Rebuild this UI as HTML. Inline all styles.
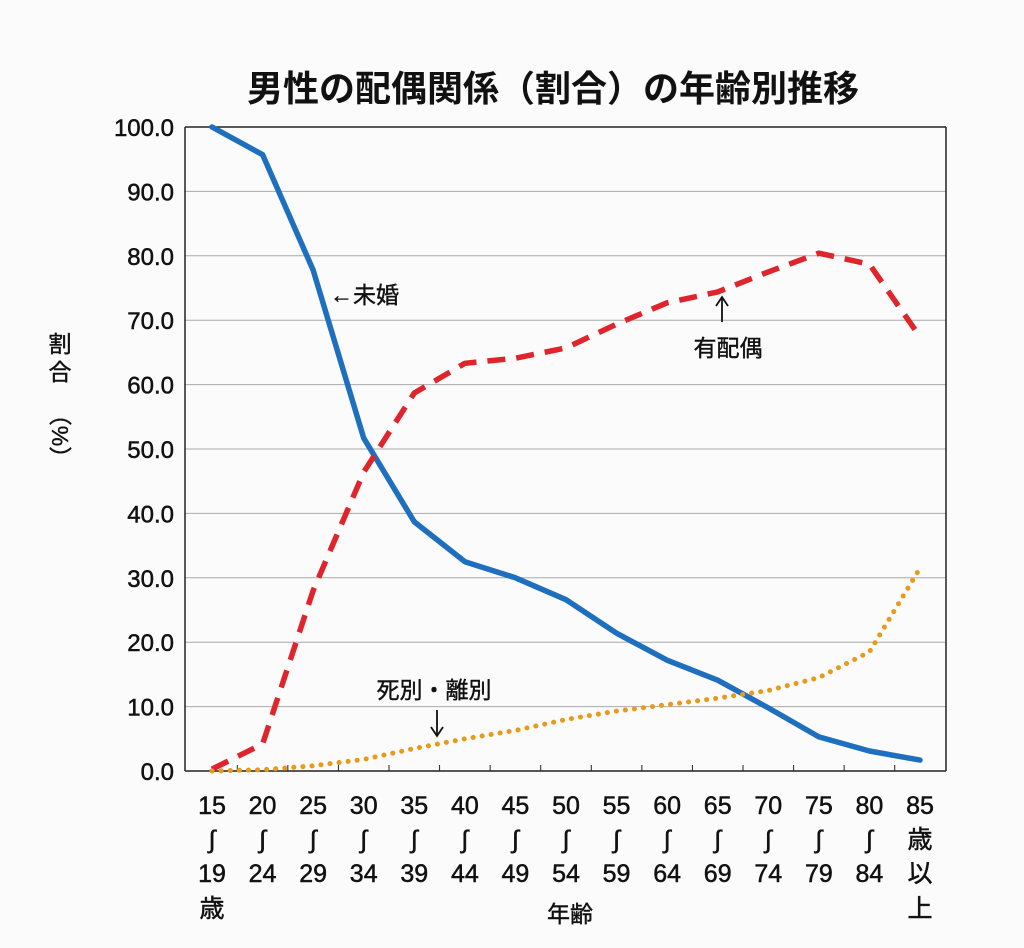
<!DOCTYPE html>
<html><head><meta charset="utf-8"><style>
body{margin:0;background:#fbfbfb;}
svg{display:block;font-family:"Liberation Sans","Noto Sans CJK JP",sans-serif;}
</style></head><body>
<svg id="chart" width="1024" height="948" viewBox="0 0 1024 948">
<rect width="1024" height="948" fill="#fbfbfb"/>
<text x="553" y="101" text-anchor="middle" font-size="36" font-weight="bold" fill="#111">男性の配偶関係（割合）の年齢別推移</text>
<g id="grid"></g><g id="axes"></g><g id="series"></g>
<g font-size="23" fill="#111" stroke="#111" stroke-width="0.4">
<text x="60" y="352" text-anchor="middle">割</text>
<text x="60" y="380" text-anchor="middle">合</text>
<text x="60" y="436" text-anchor="middle" transform="rotate(90 60 436)" dy="8">（%）</text>
</g>
<text x="570" y="922" text-anchor="middle" font-size="23" fill="#111" stroke="#111" stroke-width="0.4">年齢</text>
<g font-size="23" fill="#111" stroke="#111" stroke-width="0.4">
<text x="330" y="303">←未婚</text>
<line x1="722" y1="298" x2="722" y2="322" stroke="#111" stroke-width="1.8"/>
<path d="M716 306 L722 297 L728 306" fill="none" stroke="#111" stroke-width="1.8"/>
<text x="728" y="356" text-anchor="middle">有配偶</text>
<text x="434" y="698" text-anchor="middle">死別・離別</text>
<line x1="437" y1="710" x2="437" y2="735" stroke="#111" stroke-width="1.8"/>
<path d="M431 727 L437 736 L443 727" fill="none" stroke="#111" stroke-width="1.8"/>
</g>
</svg>
<script>
const categories=["15","20","25","30","35","40","45","50","55","60","65","70","75","80","85"];
const categoryEnds=["19","24","29","34","39","44","49","54","59","64","69","74","79","84",""];
const yTicks=[0,10,20,30,40,50,60,70,80,90,100];
const unmarried=[100,95.7,77.8,51.7,38.7,32.5,30,26.6,21.4,17.2,14.1,9.8,5.3,3.1,1.7];
const married=[0.3,4.2,28,46.4,58.7,63.3,64.1,65.7,69.4,72.7,74.4,77.5,80.4,78.7,67.4];
const widowedDivorced=[0,0.2,0.8,1.8,3.5,5,6.3,8,9.3,10.3,11.3,12.5,14.5,18.5,31.5];
const NS="http://www.w3.org/2000/svg";
const L=185,R=946,T=127,B=771;
const x0=212,dx=(920-212)/14;
const X=i=>x0+i*dx, Y=v=>B-(v/100)*(B-T);
function mk(tag,attrs,parent,text){const e=document.createElementNS(NS,tag);for(const k in attrs)e.setAttribute(k,attrs[k]);if(text!==undefined)e.textContent=text;parent.appendChild(e);return e;}
const grid=document.getElementById('grid'),axes=document.getElementById('axes'),series=document.getElementById('series');
yTicks.forEach(t=>{
 const g=mk('line',{x1:L,x2:R,y1:Y(t),y2:Y(t),stroke:(t===0||t===100)?'#222':'#aaa','stroke-width':(t===0||t===100)?1.5:1},grid);
 
 
 const tx=mk('text',{x:174,y:Y(t)+9,'text-anchor':'end','font-size':24,fill:'#111',stroke:'#111','stroke-width':0.5},axes,t.toFixed(1));
 
 
});
const lb=mk('line',{x1:L,x2:L,y1:T,y2:B,stroke:'#222','stroke-width':1.5},grid);


const rb=mk('line',{x1:R,x2:R,y1:T,y2:B,stroke:'#222','stroke-width':1.5},grid);


categories.forEach((c,i)=>{
 if(i>0){const tk=mk('line',{x1:X(i)-dx/2,x2:X(i)-dx/2,y1:B-6,y2:B,stroke:'#222'},axes);
 
 }
 const g=mk('g',{'font-size':25,fill:'#111','text-anchor':'middle',stroke:'#111','stroke-width':0.5},axes);
 
 
 mk('text',{x:X(i),y:814},g,c);
 if(i<14){
  mk('text',{x:X(i),y:848},g,'∫');
  mk('text',{x:X(i),y:882},g,categoryEnds[i]);
  if(i===0)mk('text',{x:X(i),y:917},g,'歳');
 }else{
  mk('text',{x:X(i),y:848},g,'歳');
  mk('text',{x:X(i),y:882},g,'以');
  mk('text',{x:X(i),y:917},g,'上');
 }
});
function path(arr){return arr.map((v,i)=>(i?'L':'M')+X(i).toFixed(1)+' '+Y(v).toFixed(1)).join(' ');}
const p1=mk('path',{d:path(unmarried),fill:'none',stroke:'#1f6fbf','stroke-width':5.5,'stroke-linejoin':'round','stroke-linecap':'round'},series);


const p2=mk('path',{d:path(married),fill:'none',stroke:'#e0242b','stroke-width':5.5,'stroke-dasharray':'18 11','stroke-linejoin':'round'},series);


const p3=mk('path',{d:path(widowedDivorced),fill:'none',stroke:'#e89a1a','stroke-width':5,'stroke-dasharray':'0.1 9','stroke-linecap':'round'},series);


</script>
</body></html>
